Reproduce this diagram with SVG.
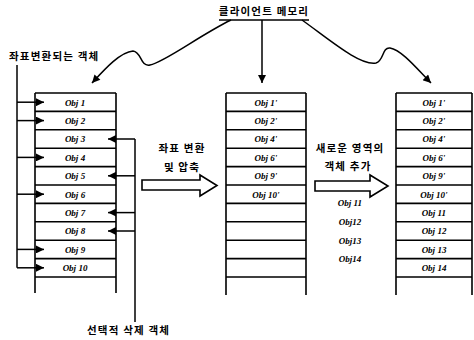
<svg xmlns="http://www.w3.org/2000/svg" width="474" height="340" viewBox="0 0 474 340">
<defs>
<style>
.ln{stroke:#000;stroke-width:1.6;fill:none}
.cv{stroke:#000;stroke-width:1.5;fill:none}
.ob{font-family:"Liberation Serif",serif;font-weight:bold;font-style:italic;font-size:9px;text-anchor:middle;fill:#000}
.kr{font-family:"Noto Sans CJK KR","Noto Sans",sans-serif;font-weight:bold;font-size:10.5px;fill:#000;letter-spacing:1.2px}
.ha{fill:#fff;stroke:#000;stroke-width:1.6}
</style>
<marker id="ah" viewBox="0 0 10 10" refX="10" refY="5" markerWidth="10" markerHeight="8" markerUnits="userSpaceOnUse" orient="auto">
<path d="M0,0 L10,5 L0,10 z" fill="#000"/>
</marker>
</defs>
<rect width="474" height="340" fill="#fff"/>

<g id="title">
<text class="kr" x="264" y="15" text-anchor="middle">클라이언트 메모리</text>
<line class="ln" x1="219" y1="20" x2="309" y2="20"/>
</g>

<g id="label-transform">
<text class="kr" x="9" y="60">좌표변환되는 객체</text>
</g>
<g id="label-delete">
<text class="kr" x="87" y="334">선택적 삭제 객체</text>
</g>

<g id="col-left">
<path class="ln" d="M35,93 V293 M116,93 V293"/>
<path class="ln" d="M35,93 H116 M35,111.4 H116 M35,129.8 H116 M35,148.2 H116 M35,166.6 H116 M35,185 H116 M35,203.4 H116 M35,221.8 H116 M35,240.2 H116 M35,258.6 H116 M35,277 H116"/>
<text class="ob" x="75" y="105.5">Obj 1</text>
<text class="ob" x="75" y="123.9">Obj 2</text>
<text class="ob" x="75" y="142.3">Obj 3</text>
<text class="ob" x="75" y="160.7">Obj 4</text>
<text class="ob" x="75" y="179.1">Obj 5</text>
<text class="ob" x="75" y="197.5">Obj 6</text>
<text class="ob" x="75" y="215.9">Obj 7</text>
<text class="ob" x="75" y="234.3">Obj 8</text>
<text class="ob" x="75" y="252.7">Obj 9</text>
<text class="ob" x="75" y="271.1">Obj 10</text>
</g>

<g id="col-middle">
<path class="ln" d="M226,93 V295 M306,93 V295"/>
<path class="ln" d="M226,93 H306 M226,111.4 H306 M226,129.8 H306 M226,148.2 H306 M226,166.6 H306 M226,185 H306 M226,203.4 H306 M226,221.8 H306 M226,240.2 H306 M226,258.6 H306 M226,277 H306"/>
<text class="ob" x="266" y="105.5">Obj 1'</text>
<text class="ob" x="266" y="123.9">Obj 2'</text>
<text class="ob" x="266" y="142.3">Obj 4'</text>
<text class="ob" x="266" y="160.7">Obj 6'</text>
<text class="ob" x="266" y="179.1">Obj 9'</text>
<text class="ob" x="266" y="197.5">Obj 10'</text>
</g>

<g id="col-right">
<path class="ln" d="M396,93 V295 M472,93 V295"/>
<path class="ln" d="M396,93 H472 M396,111.4 H472 M396,129.8 H472 M396,148.2 H472 M396,166.6 H472 M396,185 H472 M396,203.4 H472 M396,221.8 H472 M396,240.2 H472 M396,258.6 H472 M396,277 H472"/>
<text class="ob" x="434" y="105.5">Obj 1'</text>
<text class="ob" x="434" y="123.9">Obj 2'</text>
<text class="ob" x="434" y="142.3">Obj 4'</text>
<text class="ob" x="434" y="160.7">Obj 6'</text>
<text class="ob" x="434" y="179.1">Obj 9'</text>
<text class="ob" x="434" y="197.5">Obj 10'</text>
<text class="ob" x="434" y="215.9">Obj 11</text>
<text class="ob" x="434" y="234.3">Obj 12</text>
<text class="ob" x="434" y="252.7">Obj 13</text>
<text class="ob" x="434" y="271.1">Obj 14</text>
</g>

<g id="step1">
<text class="kr" x="182" y="152" text-anchor="middle">좌표 변환</text>
<text class="kr" x="182" y="171" text-anchor="middle">및 압축</text>
<path class="ha" d="M142,180 H200 V175 L217,185.5 L200,196 V190 H142 Z"/>
</g>

<g id="step2">
<text class="kr" x="350" y="152" text-anchor="middle">새로운 영역의</text>
<text class="kr" x="348" y="170" text-anchor="middle">객체 추가</text>
<path class="ha" d="M315,181 H370 V175 L388,186 L370,197 V191 H315 Z"/>
<text class="ob" x="350" y="206">Obj 11</text>
<text class="ob" x="350" y="225">Obj12</text>
<text class="ob" x="350" y="244">Obj13</text>
<text class="ob" x="350" y="262">Obj14</text>
</g>

<g id="connectors">
<path class="cv" d="M17,65 V267.8"/>
<path class="cv" d="M17,102.2 H44" marker-end="url(#ah)"/>
<path class="cv" d="M17,120.6 H44" marker-end="url(#ah)"/>
<path class="cv" d="M17,157.4 H44" marker-end="url(#ah)"/>
<path class="cv" d="M17,194.2 H44" marker-end="url(#ah)"/>
<path class="cv" d="M17,249.4 H44" marker-end="url(#ah)"/>
<path class="cv" d="M17,267.8 H44" marker-end="url(#ah)"/>
<path class="cv" d="M135,139 V322"/>
<path class="cv" d="M135,139 H108" marker-end="url(#ah)"/>
<path class="cv" d="M135,175.8 H108" marker-end="url(#ah)"/>
<path class="cv" d="M135,212.6 H108" marker-end="url(#ah)"/>
<path class="cv" d="M135,231 H108" marker-end="url(#ah)"/>
<path class="cv" d="M231,20 C200,35 165,62 150,65 C140,67 142,52 133,51 C120,52 104,70 92,83" marker-end="url(#ah)"/>
<path class="cv" d="M262,20 V83" marker-end="url(#ah)"/>
<path class="cv" d="M302,20 C330,40 360,66 376,63 C384,61 382,47 390,48 C402,50 418,70 431,83" marker-end="url(#ah)"/>
</g>
</svg>
